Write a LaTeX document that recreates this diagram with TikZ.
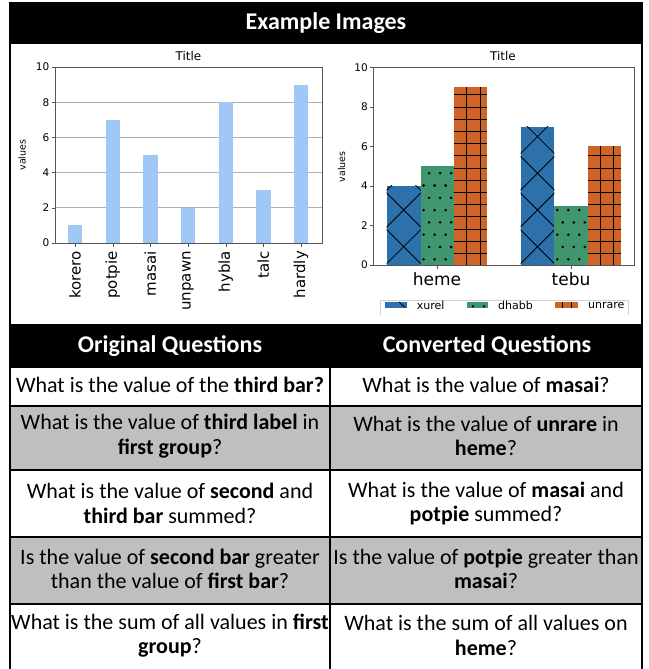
\documentclass[tikz,border=0pt]{standalone}
\usepackage{fontspec}
\setmainfont{Carlito}
\newfontfamily\plotfont{DejaVu Sans}
\usepackage{tikz}
\usetikzlibrary{positioning}
\definecolor{barblue}{RGB}{160,200,246}
\definecolor{hblue}{RGB}{44,112,172}
\definecolor{hgreen}{RGB}{64,150,110}
\definecolor{horange}{RGB}{208,100,40}
\definecolor{rowgray}{RGB}{191,191,191}
\definecolor{axgray}{RGB}{85,85,85}
\definecolor{gridgray}{RGB}{176,176,176}
\definecolor{leggray}{RGB}{210,210,210}

\tikzset{
  hdr/.style={text=white, inner sep=0pt, font=\bfseries\fontsize{24}{28}\selectfont},
  qtext/.style={inner sep=0pt, align=center, font=\fontsize{22}{24.5}\selectfont},
  ticklab/.style={inner sep=0pt, font=\plotfont\fontsize{10.5}{12}\selectfont},
  smalllab/.style={inner sep=0pt, font=\plotfont\fontsize{9.5}{11}\selectfont},
  titlelab/.style={inner sep=0pt, font=\plotfont\fontsize{12}{14}\selectfont},
  catlab/.style={inner sep=0pt, font=\plotfont\fontsize{15}{17}\selectfont},
  grouplab/.style={inner sep=0pt, font=\plotfont\fontsize{17}{19}\selectfont},
  leglab/.style={inner sep=0pt, font=\plotfont\fontsize{11}{13}\selectfont},
  hatchline/.style={black, line width=0.8pt},
}

\begin{document}
\begin{tikzpicture}[x=1pt,y=-1pt]
\useasboundingbox (0,0) rectangle (648,669);

% frame and title band
\fill[black] (9,2) rectangle (643,44);
\node[hdr] (extitle) at (326,23) {Example Images};

% left chart
\begin{scope}[shift={(0,243)}, y=17.6pt, every node/.style={inner sep=0pt}]
    \foreach \v in {2,4,6,8}
        \draw[gridgray, line width=1.1pt] (55,\v) -- (322,\v);
    \foreach \cx/\v/\lab in {75/1/korero, 112.7/7/potpie, 150.3/5/masai, 188/2/unpawn,
                             225.7/8/hybla, 263.3/3/talc, 301/9/hardly} {
        \fill[barblue] (\cx-7.2,0) rectangle (\cx+7.2,\v);
        \draw[axgray] (\cx,0) -- (\cx,-0.2);
        \node[catlab, rotate=90, anchor=east] (c-\lab) at (\cx,-0.45) {\lab};
    }
    \draw[axgray, line width=0.9pt] (55,0) rectangle (322,10);
    \foreach \v in {0,2,...,10} {
        \draw[axgray] (51.5,\v) -- (55,\v);
        \node[ticklab, anchor=east] (ly-\v) at (49.5,\v) {\v};
    }
    \node[titlelab] (ltitle) at (188.5,10.65) {Title};
    \node[smalllab, rotate=90] (lvalues) at (22,5) {values};
\end{scope}

% right chart
\begin{scope}[every node/.style={inner sep=0pt}]
    % xurel
    \foreach \xa/\xb/\v in {386.7/420.7/4, 520.7/554.3/7} {
        \pgfmathsetmacro\ytop{265-19.77*\v}
        \pgfmathsetmacro\cx{(\xa+\xb)/2}
        \fill[hblue] (\xa,265) rectangle (\xb,\ytop);
        \begin{scope}
            \clip (\xa,265) rectangle (\xb,\ytop);
            \foreach \k in {0,...,6} {
                \pgfmathsetmacro\yc{265-18.3-36.7*\k}
                \draw[hatchline] (\cx-40,\yc-40) -- (\cx+40,\yc+40);
                \draw[hatchline] (\cx-40,\yc+40) -- (\cx+40,\yc-40);
            }
        \end{scope}
    }
    % dhabb
    \foreach \xa/\xb/\v in {420.7/454/5, 554.3/587.7/3} {
        \pgfmathsetmacro\ytop{265-19.77*\v}
        \pgfmathsetmacro\cx{(\xa+\xb)/2}
        \fill[hgreen] (\xa,265) rectangle (\xb,\ytop);
        \begin{scope}
            \clip (\xa,265) rectangle (\xb,\ytop);
            \foreach \k in {0,...,15} {
                \pgfmathsetmacro\yd{259.3-12.3*\k}
                \pgfmathsetmacro\dx{mod(\k,2)*5.5}
                \foreach \j in {-2,...,2}
                    \fill[black] (\cx-2.75+\dx+11*\j,\yd) circle (1.4);
            }
        \end{scope}
    }
    % unrare
    \foreach \xa/\xb/\v in {454/487.3/9, 587.7/621/6} {
        \pgfmathsetmacro\ytop{265-19.77*\v}
        \fill[horange] (\xa,265) rectangle (\xb,\ytop);
        \begin{scope}
            \clip (\xa,265) rectangle (\xb,\ytop);
            \foreach \k in {0,...,15}
                \draw[hatchline] (\xa,253.3-12.2*\k) -- (\xb,253.3-12.2*\k);
            \draw[hatchline] (\xa+12.7,265) -- (\xa+12.7,\ytop);
            \draw[hatchline] (\xa+26,265) -- (\xa+26,\ytop);
        \end{scope}
    }
    \draw[axgray, line width=0.9pt] (373.3,67.3) rectangle (634,265);
    \foreach \v in {0,2,...,10} {
        \pgfmathsetmacro\yt{265-19.77*\v}
        \draw[axgray] (369.8,\yt) -- (373.3,\yt);
        \node[ticklab, anchor=east] (ry-\v) at (368,\yt) {\v};
    }
    \draw[axgray] (437,265) -- (437,268.5);
    \draw[axgray] (571,265) -- (571,268.5);
    \node[grouplab] (heme) at (437,279) {heme};
    \node[grouplab] (tebu) at (571,279) {tebu};
    \node[titlelab] (rtitle) at (503,56) {Title};
    \node[smalllab, rotate=90] (rvalues) at (341.7,166.7) {values};

    % legend, cut at the lower edge
    \draw[leggray] (380,315) -- (380,300) -- (627.7,300) -- (627.7,315);
    \fill[hblue] (385,302) rectangle (406.7,307.5);
    \draw[hatchline] (399,302) -- (405,307.5);
    \fill[hgreen] (466.7,302) rectangle (488.3,307.5);
    \fill[black] (473,306.3) circle (1.3);
    \fill[black] (484,306.3) circle (1.3);
    \fill[horange] (555,302) rectangle (578,307.5);
    \draw[hatchline] (562,302) -- (562,307.5);
    \draw[hatchline] (571.5,302) -- (571.5,307.5);
    \node[leglab, anchor=west] (lg-xurel) at (416.7,305) {xurel};
    \node[leglab, anchor=west] (lg-dhabb) at (498,305) {dhabb};
    \node[leglab, anchor=west] (lg-unrare) at (588,305) {unrare};
\end{scope}

% table
\fill[black] (9,324) rectangle (643,368);
\fill[rowgray] (10,406) rectangle (642,470);
\fill[rowgray] (10,537) rectangle (642,604);
\foreach \yl in {406,470,537,604}
    \draw[line width=2pt] (10,\yl) -- (642,\yl);
\draw[line width=2pt] (330,368) -- (330,669);
\draw[line width=2.5pt] (10,669) -- (10,2);
\draw[line width=2.5pt] (642,2) -- (642,669);

\node[hdr] (orighdr) at (170,346) {Original Questions};
\node[hdr] (convhdr) at (487,346) {Converted Questions};

\node[qtext] (o1) at (170,385) {What is the value of the \textbf{third bar?}};
\node[qtext] (c1) at (486,385) {What is the value of \textbf{masai}?};
\node[qtext] (o2) at (170,436) {What is the value of \textbf{third label} in\\\textbf{first group}?};
\node[qtext] (c2) at (486,436) {What is the value of \textbf{unrare} in\\\textbf{heme}?};
\node[qtext] (o3) at (170,503.5) {What is the value of \textbf{second} and\\\textbf{third bar} summed?};
\node[qtext] (c3) at (486,503.5) {What is the value of \textbf{masai} and\\\textbf{potpie} summed?};
\node[qtext] (o4) at (170,569) {Is the value of \textbf{second bar} greater\\than the value of \textbf{first bar}?};
\node[qtext] (c4) at (486,569) {Is the value of \textbf{potpie} greater than\\\textbf{masai}?};
\node[qtext] (o5) at (170,635.5) {What is the sum of all values in \textbf{first}\\\textbf{group}?};
\node[qtext] (c5) at (486,635.5) {What is the sum of all values on\\\textbf{heme}?};
\end{tikzpicture}
\end{document}
